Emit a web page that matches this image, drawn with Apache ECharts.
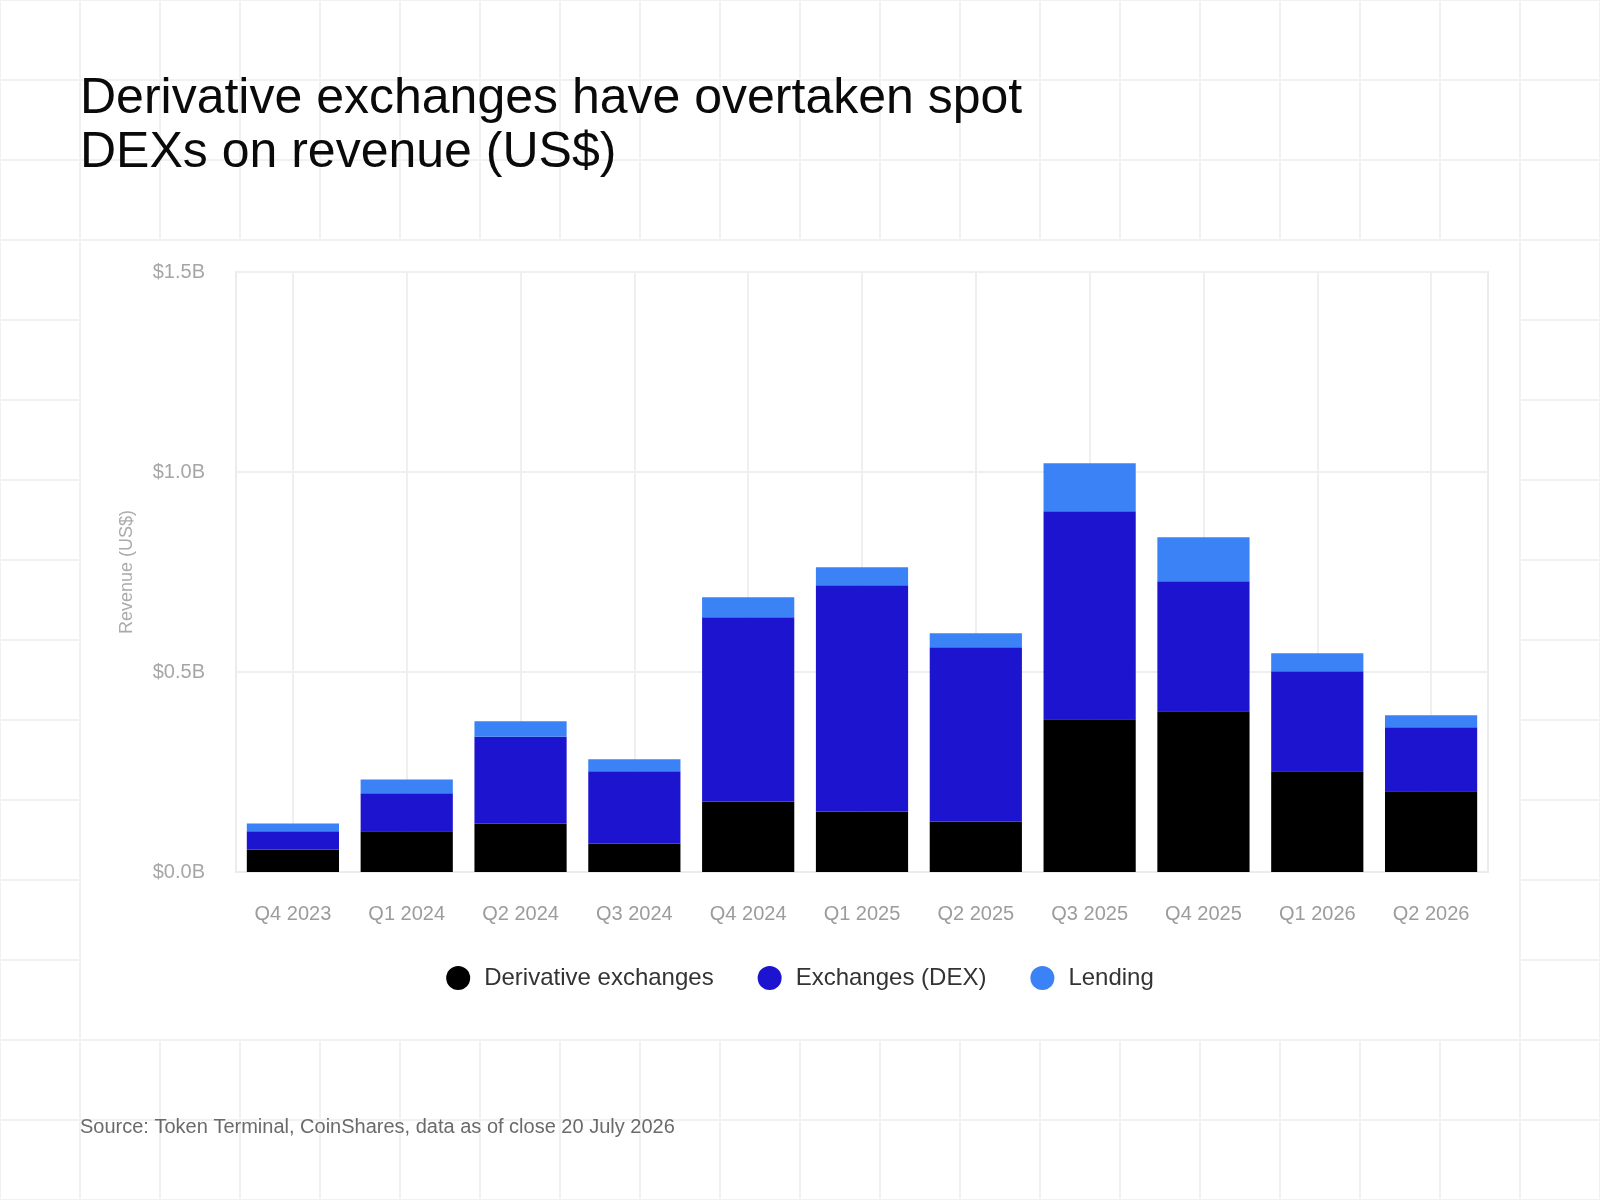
<!DOCTYPE html>
<html>
<head>
<meta charset="utf-8">
<script src="https://cdn.jsdelivr.net/npm/echarts@6/dist/echarts.min.js"></script>
<style>
  html, body { margin: 0; padding: 0; }
  body {
    width: 1600px; height: 1200px; position: relative; overflow: hidden;
    background-color: #ffffff;
    background-image:
      linear-gradient(to right, #f1f1f1 2px, transparent 2px),
      linear-gradient(to bottom, #f1f1f1 2px, transparent 2px);
    background-size: 80px 80px;
    background-position: -1px -1px;
  }
  #panel { position: absolute; left: 81px; top: 241px; width: 1438px; height: 798px; background: #ffffff; }
  #chart { position: absolute; left: 0; top: 0; width: 1600px; height: 1200px; }
</style>
</head>
<body>
<div id="panel"></div>
<div id="chart"></div>
<script>
const categories = ['Q4 2023', 'Q1 2024', 'Q2 2024', 'Q3 2024', 'Q4 2024', 'Q1 2025', 'Q2 2025', 'Q3 2025', 'Q4 2025', 'Q1 2026', 'Q2 2026'];
const derivativeExchanges = [0.056, 0.102, 0.121, 0.071, 0.176, 0.151, 0.126, 0.382, 0.402, 0.252, 0.202];
const exchangesDex = [0.046, 0.095, 0.217, 0.181, 0.461, 0.566, 0.436, 0.520, 0.325, 0.250, 0.160];
const lending = [0.019, 0.034, 0.039, 0.030, 0.050, 0.045, 0.035, 0.120, 0.110, 0.045, 0.030];
const yTicks = [0, 0.5, 1.0, 1.5];

const FONT = "'Liberation Sans', Arial, sans-serif";
const chart = echarts.init(document.getElementById('chart'), null, { renderer: 'canvas' });

function barSeries(name, data, color) {
  return {
    name: name, type: 'bar', stack: 'total', data: data,
    barCategoryGap: '19%',
    itemStyle: { color: color },
    emphasis: { disabled: true }
  };
}

chart.setOption({
  animation: false,
  backgroundColor: 'transparent',
  title: [
    {
      text: 'Derivative exchanges have overtaken spot\nDEXs on revenue (US$)',
      left: 80, top: 72, padding: 0,
      textStyle: { fontFamily: FONT, fontSize: 50, fontWeight: 'normal', lineHeight: 54, color: '#0a0a0a' }
    },
    {
      text: 'Source: Token Terminal, CoinShares, data as of close 20 July 2026',
      left: 80, top: 1115, padding: 0,
      textStyle: { fontFamily: FONT, fontSize: 20, fontWeight: 'normal', lineHeight: 24, color: '#6a6a6a' }
    }
  ],
  legend: {
    data: ['Derivative exchanges', 'Exchanges (DEX)', 'Lending'],
    left: 'center', top: 966, padding: 0,
    icon: 'circle', itemWidth: 24, itemHeight: 24, itemGap: 44,
    textStyle: { fontFamily: FONT, fontSize: 24, color: '#333333', padding: [0, 0, 0, 9] }
  },
  grid: {
    left: 236, right: 112, top: 272, bottom: 328,
    show: true, borderColor: '#ececec', borderWidth: 2, backgroundColor: 'transparent'
  },
  xAxis: {
    type: 'category',
    data: categories,
    axisLine: { show: true, lineStyle: { color: '#ececec', width: 2 } },
    axisTick: { show: false },
    axisLabel: { margin: 32, fontFamily: FONT, fontSize: 20, color: '#9c9c9c' },
    splitLine: { show: true, alignWithLabel: true, lineStyle: { color: '#efefef', width: 2 } }
  },
  yAxis: {
    type: 'value',
    min: yTicks[0], max: yTicks[yTicks.length - 1], interval: 0.5,
    name: 'Revenue (US$)', nameLocation: 'middle', nameGap: 100, nameRotate: 90,
    nameTextStyle: { fontFamily: FONT, fontSize: 18, color: '#ababab' },
    axisLine: { show: false },
    axisTick: { show: false },
    axisLabel: {
      margin: 31, fontFamily: FONT, fontSize: 20, color: '#a6a6a6', padding: [0, 0, 6, 0],
      formatter: function (v) { return '$' + v.toFixed(1) + 'B'; }
    },
    splitLine: { show: true, lineStyle: { color: '#efefef', width: 2 } }
  },
  series: [
    barSeries('Derivative exchanges', derivativeExchanges, '#000000'),
    barSeries('Exchanges (DEX)', exchangesDex, '#1d14d0'),
    barSeries('Lending', lending, '#3b82f6')
  ]
});
</script>
</body>
</html>
